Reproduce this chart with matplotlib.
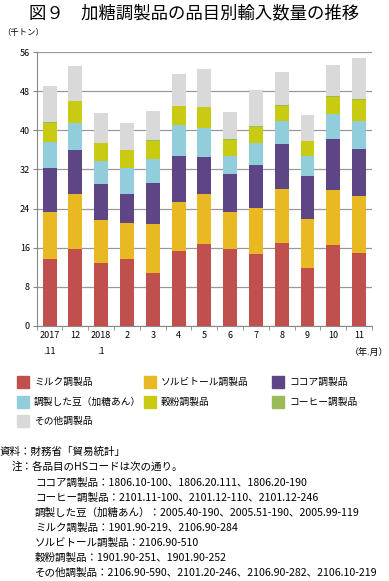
import matplotlib
matplotlib.use("Agg")
import matplotlib.pyplot as plt
import numpy as np
from matplotlib.patches import Rectangle

plt.rcParams["font.family"] = ["Noto Sans CJK JP", "DejaVu Sans"]

# data (thousand tonnes)
months = ["2017\n.11", "12", "2018\n.1", "2", "3", "4", "5", "6", "7", "8", "9", "10", "11"]
milk = [13.7, 15.7, 12.9, 13.7, 10.7, 15.4, 16.7, 15.8, 14.7, 17.0, 11.8, 16.5, 14.8]
sorbitol = [9.6, 11.3, 8.7, 7.3, 10.2, 9.9, 10.3, 7.4, 9.4, 11.1, 10.0, 11.2, 11.8]
cocoa = [9.0, 9.0, 7.4, 6.0, 8.4, 9.5, 7.6, 7.9, 8.8, 9.1, 8.8, 10.6, 9.5]
beans = [5.3, 5.6, 4.7, 5.2, 4.9, 6.4, 5.9, 3.7, 4.6, 4.7, 4.2, 5.1, 5.8]
flour = [4.0, 4.4, 3.7, 3.7, 3.7, 3.7, 4.2, 3.3, 3.3, 3.2, 3.0, 3.5, 4.4]
coffee = [0.1, 0.1, 0.1, 0.1, 0.1, 0.1, 0.1, 0.1, 0.1, 0.1, 0.1, 0.1, 0.1]
other = [7.3, 7.0, 6.1, 5.5, 5.9, 6.6, 7.7, 5.6, 7.4, 6.7, 5.3, 6.5, 8.4]

names = ["ミルク調製品", "ソルビトール調製品", "ココア調製品",
         "調製した豆（加糖あん）", "穀粉調製品", "コーヒー調製品", "その他調製品"]
colors = ["#C0504D", "#E8B922", "#5E4585", "#92CDDC", "#C9CA12", "#9BBB59", "#D9D9D9"]
series = [milk, sorbitol, cocoa, beans, flour, coffee, other]

notes = [
    "ココア調製品：1806.10-100、1806.20.111、1806.20-190",
    "コーヒー調製品：2101.11-100、2101.12-110、2101.12-246",
    "調製した豆（加糖あん）：2005.40-190、2005.51-190、2005.99-119",
    "ミルク調製品：1901.90-219、2106.90-284",
    "ソルビトール調製品：2106.90-510",
    "穀粉調製品：1901.90-251、1901.90-252",
    "その他調製品：2106.90-590、2101.20-246、2106.90-282、2106.10-219",
]

W, H = 389, 581
fig = plt.figure(figsize=(W / 100, H / 100), dpi=100)
ax = fig.add_axes([36.7 / W, 1 - 325.7 / H, 335.3 / W, 273.4 / H])

x = np.arange(len(months))
bottom = np.zeros(len(months))
for vals, col in zip(series, colors):
    ax.bar(x, vals, width=0.54, bottom=bottom, color=col, zorder=3)
    bottom += np.array(vals)

ax.set_xlim(-0.5, len(months) - 0.5)
ax.set_ylim(0, 56)
ax.set_yticks(np.arange(0, 57, 8))
ax.yaxis.grid(True, color="#999999", linewidth=0.9, zorder=0)
for s in ["top", "right"]:
    ax.spines[s].set_visible(False)
for s in ["left", "bottom"]:
    ax.spines[s].set_color("#888888")
ax.tick_params(axis="y", labelsize=6.5, length=3, color="#888888", pad=2)
ax.set_xticks(x)
ax.set_xticklabels(months, fontsize=6.5, linespacing=1.9)
ax.tick_params(axis="x", length=0, pad=4)
ax.set_xticks(np.arange(-0.5, len(months)), minor=True)
ax.tick_params(axis="x", which="minor", length=3, color="#888888")

fig.text(0.5, 1 - 13 / H, "図９　加糖調製品の品目別輸入数量の推移", fontsize=12.5,
         ha="center", va="center")
fig.text(2 / W, 1 - 32 / H, "（千トン）", fontsize=6, ha="left", va="center")
fig.text(388 / W, 1 - 352 / H, "（年.月）", fontsize=6.5, ha="right", va="center")

# legend
leg_cols = [17, 144, 272]
leg_rows = [382, 402, 421]
for i, (name, col) in enumerate(zip(names, colors)):
    lx = leg_cols[i % 3]
    ly = leg_rows[i // 3]
    fig.add_artist(Rectangle((lx / W, 1 - (ly + 6) / H), 12 / W, 12 / H,
                             transform=fig.transFigure, color=col))
    fig.text((lx + 17) / W, 1 - ly / H, name, fontsize=7, ha="left", va="center")

fig.text(0, 1 - 452 / H, "資料：財務省「貿易統計」", fontsize=7.6, ha="left", va="center")
fig.text(12 / W, 1 - 467 / H, "注：各品目のHSコードは次の通り。", fontsize=7.6,
         ha="left", va="center")
for k, line in enumerate(notes):
    fig.text(35 / W, 1 - (482.5 + 15 * k) / H, line, fontsize=7.6,
             ha="left", va="center")

fig.savefig("out.png", dpi=100)
